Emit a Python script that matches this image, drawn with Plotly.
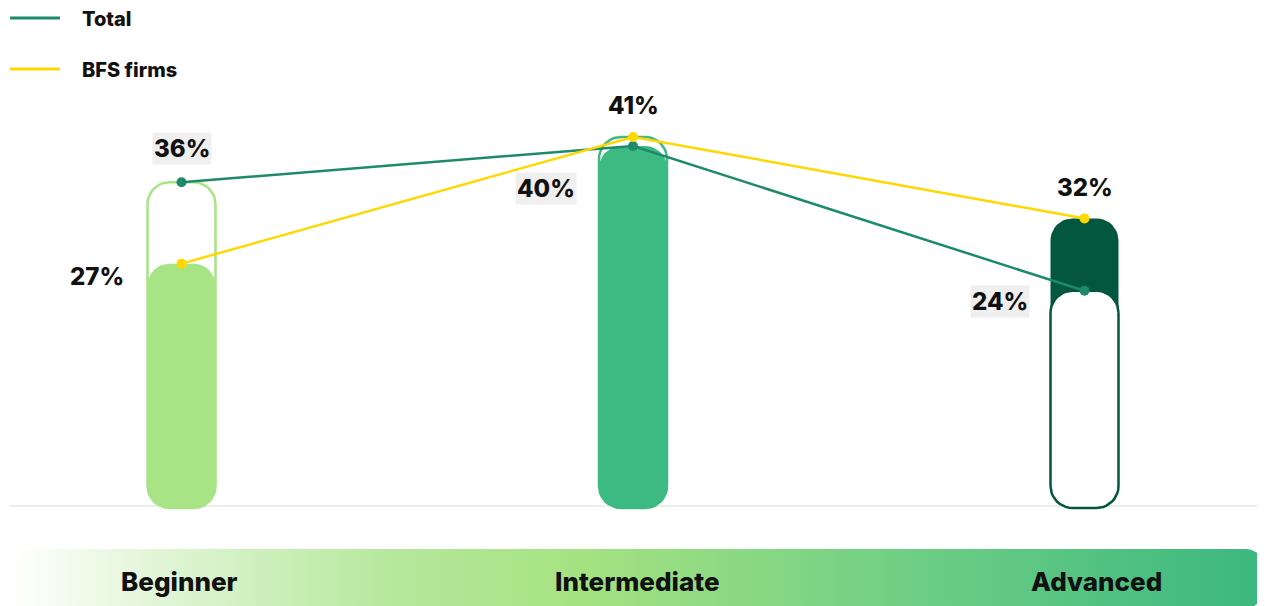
import math
import plotly.graph_objects as go

# ---- data ----
categories = ["Beginner", "Intermediate", "Advanced"]
total = [36, 40, 24]
bfs = [27, 41, 32]
series_names = ["Total", "BFS firms"]
bar_colors = ["#a8e385", "#3dba82", "#03573f"]

# ---- layout constants (window pixels; page body has an 8px margin) ----
OFF = 8
WIN_W, WIN_H = 1265, 606
W, H = WIN_W - OFF, WIN_H - OFF
ML, MR, MT, MB = 2, 0, 0, 0
PW, PH = W - ML - MR, H - MT - MB
KX = 451.5            # px per category step
X0_WIN = 181.5        # window pixel of first category
KY = 9.05             # px per percent
Y0_WIN = 508          # window pixel of 0%

x0_fig = X0_WIN - OFF
y0_fig = Y0_WIN - OFF
x_range = [-(x0_fig - ML) / KX, (W - MR - x0_fig) / KX]
y_range = [-(H - MB - y0_fig) / KY, (y0_fig - MT) / KY]


def px_to_x(px):
    return (px - X0_WIN) / KX


def py_to_y(py):
    return (Y0_WIN - py) / KY


def px_to_paper(px):
    return (px - OFF - ML) / PW


def py_to_paper(py):
    return 1 - (py - OFF - MT) / PH


def rrect(x0, x1, y0, y1, rpx, n=10):
    rx, ry = rpx / KX, rpx / KY
    ry = min(ry, (y1 - y0) / 2)
    xs, ys = [], []
    centers = [(x1 - rx, y1 - ry, 0), (x0 + rx, y1 - ry, 90),
               (x0 + rx, y0 + ry, 180), (x1 - rx, y0 + ry, 270)]
    for cx, cy, a0 in centers:
        for i in range(n + 1):
            a = math.radians(a0 + 90 * i / n)
            xs.append(cx + rx * math.cos(a))
            ys.append(cy + ry * math.sin(a))
    xs.append(xs[0]); ys.append(ys[0])
    return xs, ys


fig = go.Figure()
FONT = "Inter"
WT = 800

# ---- bottom gradient band ----
bx, by = rrect(px_to_x(12), px_to_x(1264), py_to_y(608), py_to_y(549), 18)
fig.add_trace(go.Scatter(
    x=bx, y=by, mode="lines", fill="toself", line=dict(width=0),
    fillgradient=dict(type="horizontal",
                      colorscale=[[0, "#ffffff"], [0.08, "#eaf8e2"], [0.3, "#b6e89d"],
                                  [0.45, "#a6e281"], [0.7, "#72d085"], [1, "#3bb77f"]]),
    hoverinfo="skip", showlegend=False))

# ---- bars ----
BAR_W = 68
for i, cat in enumerate(categories):
    hi, lo = max(total[i], bfs[i]), min(total[i], bfs[i])
    x0, x1 = i - BAR_W / 2 / KX, i + BAR_W / 2 / KX
    c = bar_colors[i]
    if i < 2:
        outer = dict(fillcolor="white", line=dict(color=c, width=2.5))
        inner = dict(fillcolor=c, line=dict(color=c, width=0))
    else:
        outer = dict(fillcolor=c, line=dict(color=c, width=0))
        inner = dict(fillcolor="white", line=dict(color=c, width=2.5))
    ox, oy = rrect(x0, x1, 0, hi, 22)
    fig.add_trace(go.Scatter(x=ox, y=oy, mode="lines", fill="toself",
                             hoverinfo="skip", showlegend=False, **outer))
    ix, iy = rrect(x0, x1, 0, lo, 22)
    fig.add_trace(go.Scatter(x=ix, y=iy, mode="lines", fill="toself",
                             hoverinfo="skip", showlegend=False, **inner))

# ---- lines ----
line_colors = ["#1e8a6c", "#ffd800"]
for name, vals, col in zip(series_names, [total, bfs], line_colors):
    fig.add_trace(go.Scatter(
        x=list(range(len(categories))), y=vals, mode="lines+markers", name=name,
        line=dict(color=col, width=2.5), marker=dict(color=col, size=10),
        showlegend=False, cliponaxis=False))

# ---- value labels ----
total_offsets = [(0, 34), (-87, -42), (-85, -11)]
bfs_offsets = [(-85, -13), (0, 31), (0, 31)]
for vals, offs, bg in [(total, total_offsets, "#efefef"), (bfs, bfs_offsets, "rgba(0,0,0,0)")]:
    for i, v in enumerate(vals):
        fig.add_annotation(x=i, y=v, text=f"{v}%", showarrow=False,
                           xshift=offs[i][0], yshift=offs[i][1], bgcolor=bg, borderpad=1,
                           font=dict(family=FONT, size=24, color="#111111", weight=WT))

# ---- category labels in band ----
cat_shift = [-2, 4, 12]
for i, cat in enumerate(categories):
    fig.add_annotation(x=i, y=py_to_y(581), text=cat, showarrow=False, xshift=cat_shift[i],
                       font=dict(family=FONT, size=26, color="#111111", weight=WT))

# ---- baseline ----
fig.add_shape(type="line", xref="paper", x0=px_to_paper(10), x1=1, yref="y",
              y0=py_to_y(506), y1=py_to_y(506),
              line=dict(color="#ececec", width=2), layer="below")

# ---- manual legend ----
for j, (name, col) in enumerate(zip(series_names, line_colors)):
    yp = py_to_paper(18 + 51 * j)
    fig.add_shape(type="line", xref="paper", yref="paper",
                  x0=px_to_paper(10), x1=px_to_paper(60), y0=yp, y1=yp,
                  line=dict(color=col, width=3))
    fig.add_annotation(xref="paper", yref="paper", x=px_to_paper(81), y=yp, text=name,
                       showarrow=False, xanchor="left", yanchor="middle", borderpad=0,
                       yshift=-1,
                       font=dict(family=FONT, size=20, color="#111111", weight=WT))

fig.update_layout(
    width=W, height=H, margin=dict(l=ML, r=MR, t=MT, b=MB),
    paper_bgcolor="white", plot_bgcolor="white",
    xaxis=dict(range=x_range, visible=False, fixedrange=True),
    yaxis=dict(range=y_range, visible=False, fixedrange=True),
    showlegend=False,
)

fig.write_html("out.html")
